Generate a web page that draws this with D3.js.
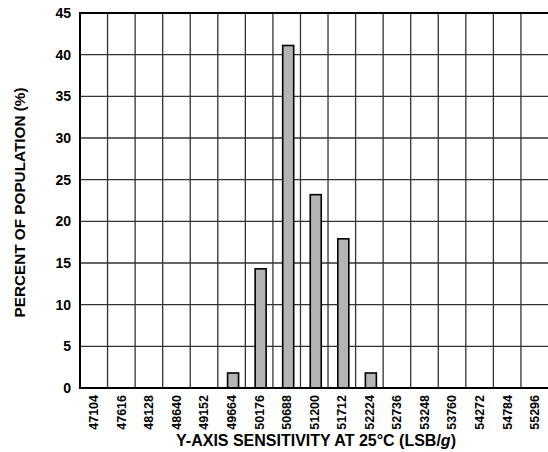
<!DOCTYPE html>
<html><head><meta charset="utf-8">
<script src="https://cdn.jsdelivr.net/npm/d3@7"></script>
<style>body{margin:0;background:#fff}</style>
</head><body>
<svg id="c" width="548" height="452"></svg>
<script>
const categories = ["47104","47616","48128","48640","49152","49664","50176","50688","51200","51712","52224","52736","53248","53760","54272","54784","55296"];
const percents   = [0,0,0,0,0,1.8,14.3,41.1,23.2,17.9,1.8,0,0,0,0,0,0];
const yTicks     = [0,5,10,15,20,25,30,35,40,45];

const svg = d3.select("#c");
const m = {left:80, top:13, right:548, bottom:388};
const x = d3.scaleBand().domain(categories).range([m.left, m.right+0.5]).paddingInner(0).paddingOuter(0);
const y = d3.scaleLinear().domain([0,45]).range([m.bottom, m.top]);
const font = "'Liberation Sans', Arial, sans-serif";

// grid
const g = svg.append("g");
g.selectAll("line.h").data(yTicks).join("line")
  .attr("x1", m.left).attr("x2", m.right+2).attr("y1", d=>y(d)).attr("y2", d=>y(d))
  .attr("stroke", "#333").attr("stroke-width", 1.3);
g.selectAll("line.v").data(categories.slice(1)).join("line")
  .attr("x1", d=>x(d)).attr("x2", d=>x(d)).attr("y1", m.top).attr("y2", m.bottom)
  .attr("stroke", "#333").attr("stroke-width", 1.3);

// bars
const bw = 11;
svg.append("g").selectAll("rect").data(categories.map((c,i)=>({c, v:percents[i]})).filter(d=>d.v>0)).join("rect")
  .attr("x", d=>x(d.c)+x.bandwidth()/2 - bw/2 + 1.5)
  .attr("width", bw)
  .attr("y", d=>y(d.v))
  .attr("height", d=>y(0)-y(d.v))
  .attr("fill", "#b4b4b4").attr("stroke", "#000").attr("stroke-width", 1.6);

// borders
svg.append("line").attr("x1",m.left).attr("x2",m.left).attr("y1",m.top).attr("y2",m.bottom).attr("stroke","#000").attr("stroke-width",2);
svg.append("line").attr("x1",m.left-1).attr("x2",m.right+2).attr("y1",m.bottom).attr("y2",m.bottom).attr("stroke","#000").attr("stroke-width",2);
svg.append("line").attr("x1",m.left-1).attr("x2",m.right+2).attr("y1",m.top).attr("y2",m.top).attr("stroke","#000").attr("stroke-width",2);

// y axis labels
const yAxis = d3.axisLeft(y).tickValues(yTicks).tickSize(0).tickPadding(9);
const ya = svg.append("g").attr("transform",`translate(${m.left},0)`).call(yAxis);
ya.select(".domain").remove();
ya.selectAll("text").attr("font-family",font).attr("font-weight","bold").attr("font-size",14).attr("fill","#000");

// x axis labels
const xAxis = d3.axisBottom(x).tickSize(0).tickPadding(0);
const xa = svg.append("g").attr("transform",`translate(0,${m.bottom})`).call(xAxis);
xa.select(".domain").remove();
xa.selectAll("text")
  .attr("font-family",font).attr("font-weight","bold").attr("font-size",12.5).attr("fill","#000")
  .attr("transform","rotate(-90)").attr("text-anchor","end")
  .attr("x",-7).attr("y",0).attr("dy","0.35em");

// titles
const xt = svg.append("text").attr("x",316).attr("y",446).attr("text-anchor","middle")
  .attr("font-family",font).attr("font-weight","bold").attr("font-size",16);
xt.append("tspan").text("Y-AXIS SENSITIVITY AT 25°C (LSB/");
xt.append("tspan").attr("font-style","italic").text("g");
xt.append("tspan").text(")");

svg.append("text").attr("transform","translate(25,202.5) rotate(-90)").attr("text-anchor","middle")
  .attr("font-family",font).attr("font-weight","bold").attr("font-size",15.3)
  .text("PERCENT OF POPULATION (%)");
</script>
</body></html>
